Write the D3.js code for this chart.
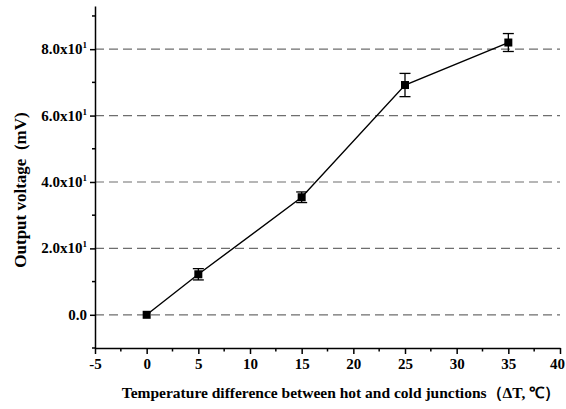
<!DOCTYPE html>
<html lang="en">
<head>
<meta charset="utf-8">
<title>Output voltage vs temperature difference</title>
<script src="https://d3js.org/d3.v7.min.js"></script>
<style>
  body { margin: 0; background: #fff; }
  text { font-family: "Liberation Serif", "Times New Roman", serif; font-weight: bold; fill: #000; }
</style>
</head>
<body>
<script>
// data
var deltaT  = [0, 5, 15, 25, 35];
var voltage = [0, 12.2, 35.4, 69.2, 82.0];
var errBar  = [0, 1.7, 1.6, 3.5, 2.7];
var xTicks  = [-5, 0, 5, 10, 15, 20, 25, 30, 35, 40];
var yTicks  = [0, 20, 40, 60, 80];

var w = 566, h = 409;
var margin = {top: 6, right: 6, bottom: 61, left: 95};

var svg = d3.select("body").append("svg").attr("width", w).attr("height", h);

var x = d3.scaleLinear().domain([-5, 40]).range([margin.left, w - margin.right]);
var y = d3.scaleLinear().domain([-10, 93]).range([h - margin.bottom, margin.top]);

// dashed grid lines at major y ticks
svg.append("g").selectAll("line").data(yTicks).enter().append("line")
  .attr("x1", x(-5)).attr("x2", x(40))
  .attr("y1", d => y(d)).attr("y2", d => y(d))
  .attr("stroke", "#6e6e6e").attr("stroke-width", 1.2)
  .attr("stroke-dasharray", "9,5");

// x axis
var xAxis = d3.axisBottom(x).tickValues(xTicks).tickSize(6).tickSizeOuter(0).tickPadding(4)
  .tickFormat(d => String(d));
var gx = svg.append("g").attr("transform", `translate(0,${y(-10)})`).call(xAxis);
gx.attr("font-family", null);
gx.selectAll("text").style("font-size", "15px");
gx.selectAll("text").filter(d => d === 40).attr("dx", -3);
gx.selectAll("line, path").attr("stroke", "#000").attr("stroke-width", 1.5);
// minor x ticks
svg.append("g").selectAll("line").data(d3.range(-2.5, 40, 5)).enter().append("line")
  .attr("x1", d => x(d)).attr("x2", d => x(d))
  .attr("y1", y(-10)).attr("y2", y(-10) + 3.5)
  .attr("stroke", "#000").attr("stroke-width", 1.5);

// y axis
var yAxis = d3.axisLeft(y).tickValues(yTicks).tickSize(5).tickSizeOuter(0).tickFormat("");
var gy = svg.append("g").attr("transform", `translate(${x(-5)},0)`).call(yAxis);
gy.selectAll("line, path").attr("stroke", "#000").attr("stroke-width", 1.5);
// minor y ticks
svg.append("g").selectAll("line").data([-10, 10, 30, 50, 70, 90]).enter().append("line")
  .attr("x1", x(-5)).attr("x2", x(-5) - 3)
  .attr("y1", d => y(d)).attr("y2", d => y(d))
  .attr("stroke", "#000").attr("stroke-width", 1.5);

// y tick labels like 8.0x10^1
var yl = svg.append("g").selectAll("text").data(yTicks).enter().append("text")
  .attr("x", x(-5) - 8).attr("y", d => y(d) + 5)
  .attr("text-anchor", "end").style("font-size", "15px");
yl.each(function(d) {
  var t = d3.select(this);
  if (d === 0) { t.text("0.0"); return; }
  t.append("tspan").text((d / 10).toFixed(1) + "x10");
  t.append("tspan").attr("dy", -6).style("font-size", "9px").text("1");
});

// connecting line
var pts = deltaT.map((d, i) => [d, voltage[i]]);
svg.append("path").datum(pts)
  .attr("d", d3.line().x(d => x(d[0])).y(d => y(d[1])))
  .attr("fill", "none").attr("stroke", "#000").attr("stroke-width", 1.4);

// error bars
var eb = svg.append("g").selectAll("g").data(pts).enter().append("g");
eb.filter((d, i) => errBar[i] > 0).each(function(d) {
  var e = errBar[deltaT.indexOf(d[0])];
  var g = d3.select(this), cx = x(d[0]);
  g.append("line").attr("x1", cx).attr("x2", cx).attr("y1", y(d[1] - e)).attr("y2", y(d[1] + e));
  g.append("line").attr("x1", cx - 5.5).attr("x2", cx + 5.5).attr("y1", y(d[1] - e)).attr("y2", y(d[1] - e));
  g.append("line").attr("x1", cx - 5.5).attr("x2", cx + 5.5).attr("y1", y(d[1] + e)).attr("y2", y(d[1] + e));
});
eb.selectAll("line").attr("stroke", "#000").attr("stroke-width", 1.3);

// square markers
svg.append("g").selectAll("rect").data(pts).enter().append("rect")
  .attr("x", d => x(d[0]) - 4).attr("y", d => y(d[1]) - 4)
  .attr("width", 8).attr("height", 8).attr("fill", "#000");

// axis titles
svg.append("text").attr("x", 341).attr("y", 398).attr("text-anchor", "middle")
  .style("font-size", "15.5px")
  .text("Temperature difference between hot and cold junctions（ΔT, ℃）");
svg.append("text").attr("transform", "translate(26,190) rotate(-90)")
  .attr("text-anchor", "middle").style("font-size", "17px")
  .text("Output voltage\u00a0 (mV)");
</script>
</body>
</html>
